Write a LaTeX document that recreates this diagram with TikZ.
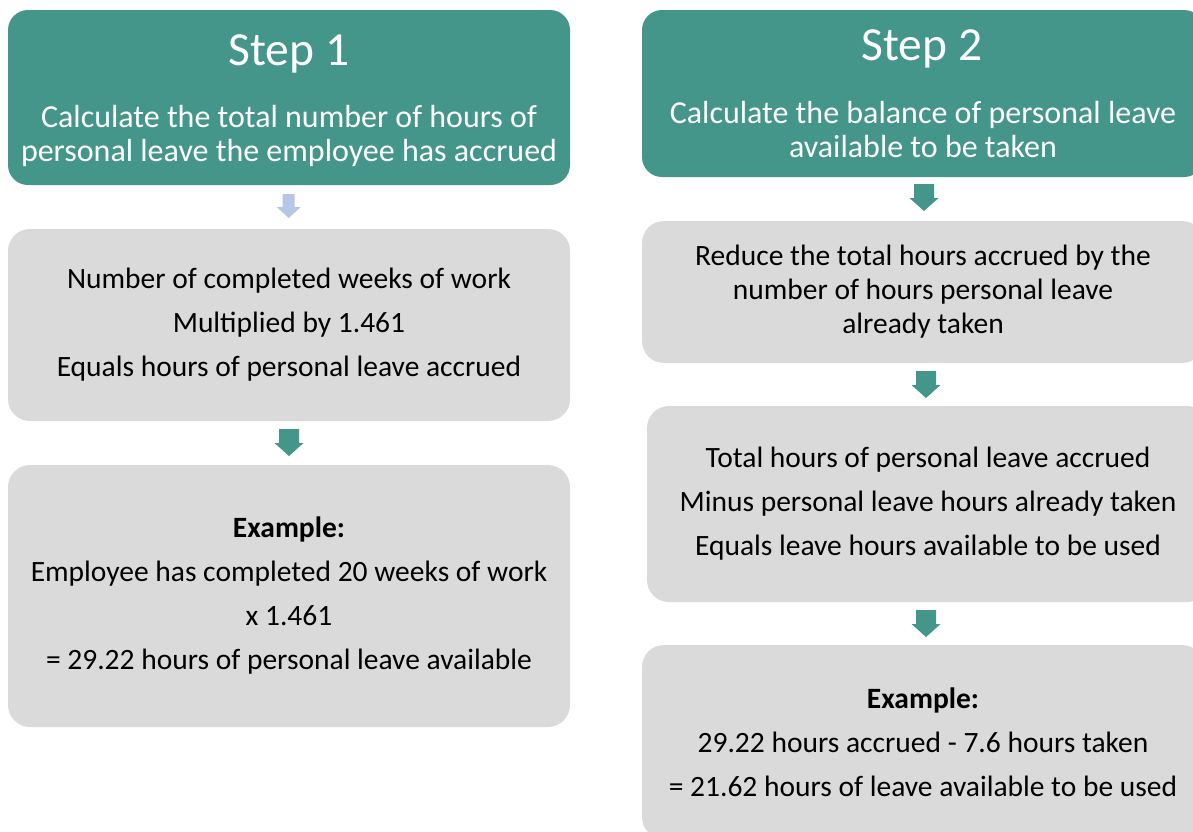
\documentclass[tikz,border=0pt]{standalone}
\usepackage{fontspec}
\setmainfont{Carlito}
\definecolor{teal1}{RGB}{69,150,138}
\definecolor{gray1}{RGB}{218,218,218}
\definecolor{blue1}{RGB}{180,199,231}
\tikzset{
  headbox/.style={draw=none, fill=teal1, rounded corners=20pt, inner sep=0pt},
  bodybox/.style={draw=none, fill=gray1, rounded corners=22pt, text=black, align=center, inner sep=0pt,
    font=\fontsize{29.5}{44}\selectfont},
  titletext/.style={text=white, inner sep=0pt, font=\fontsize{47.5}{47.5}\selectfont},
  subtext/.style={text=white, inner sep=0pt, align=center, font=\fontsize{32}{34}\selectfont},
  tarrow/.pic={\fill[teal1] (-10,0) -- (10,0) -- (10,14) -- (14.5,14) -- (0,27) -- (-14.5,14) -- (-10,14) -- cycle;},
  larrow/.pic={\fill[blue1] (-6,0) -- (6,0) -- (6,13) -- (12,13) -- (0,24) -- (-12,13) -- (-6,13) -- cycle;}
}
\begin{document}
\begin{tikzpicture}[x=1pt,y=-1pt]
\useasboundingbox (0,0) rectangle (1193,831);
% left column
\node[headbox, minimum width=562pt, minimum height=175pt] (s1) at (289,97.5) {};
\node[titletext] (s1t) at (289,54) {Step 1};
\node[subtext] (s1s) at (289,136) {Calculate the total number of hours of\\personal leave the employee has accrued};
\node[bodybox, minimum width=562pt, minimum height=192pt] (b1) at (289,325)
  {Number of completed weeks of work\\Multiplied by 1.461\\Equals hours of personal leave accrued};
\node[bodybox, minimum width=562pt, minimum height=262pt] (e1) at (289,596)
  {\textbf{Example:}\\Employee has completed 20 weeks of work\\x 1.461\\= 29.22 hours of personal leave available};
\coordinate (a1) at (288.7,194);
\pic at (a1) {larrow};
\coordinate (a2) at (289,429);
\pic at (a2) {tarrow};
% right column
\node[headbox, minimum width=562pt, minimum height=167pt] (s2) at (923,93.5) {};
\node[titletext] (s2t) at (922,49) {Step 2};
\node[subtext] (s2s) at (923,130) {Calculate the balance of personal leave\\available to be taken};
\node[bodybox, minimum width=562pt, minimum height=142pt] (b2) at (923,292)
  {Reduce the total hours accrued by the\\[-10pt]number of hours personal leave\\[-10pt]already taken};
\node[bodybox, minimum width=562pt, minimum height=196pt] (b3) at (928,504)
  {Total hours of personal leave accrued\\Minus personal leave hours already taken\\Equals leave hours available to be used};
\node[bodybox, minimum width=562pt, minimum height=194pt] (e2) at (923,742)
  {\textbf{Example:}\\29.22 hours accrued - 7.6 hours taken\\= 21.62 hours of leave available to be used};
\coordinate (a3) at (924,184);
\pic at (a3) {tarrow};
\coordinate (a4) at (926,371);
\pic at (a4) {tarrow};
\coordinate (a5) at (926,610);
\pic at (a5) {tarrow};
\end{tikzpicture}
\end{document}
